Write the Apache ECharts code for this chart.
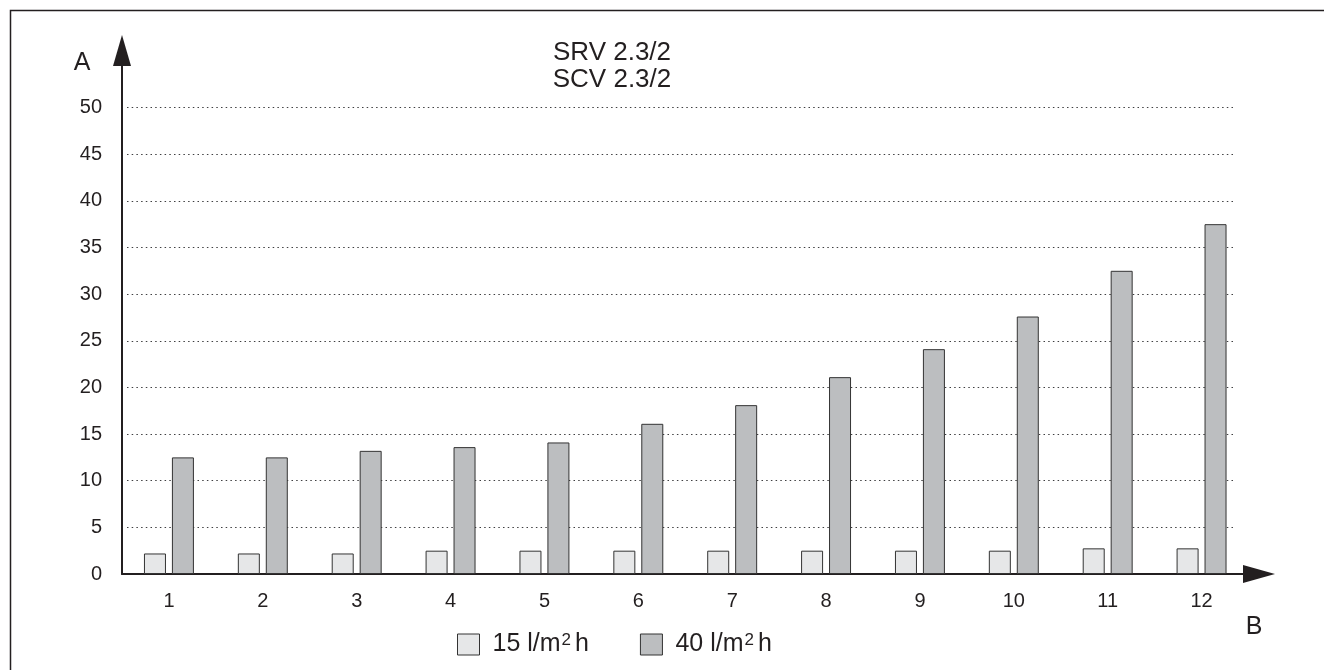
<!DOCTYPE html>
<html>
<head>
<meta charset="utf-8">
<script src="https://cdn.jsdelivr.net/npm/echarts@6/dist/echarts.min.js"></script>
<style>
  html, body { margin: 0; padding: 0; background: #ffffff; }
  #chart { width: 1324px; height: 670px; }
</style>
</head>
<body>
<div id="chart"></div>
<script>
// ---- data ----
const categories = ['1', '2', '3', '4', '5', '6', '7', '8', '9', '10', '11', '12'];
const seriesNames = ['15 l/m²h', '40 l/m²h'];
const values15 = [2.2, 2.2, 2.2, 2.5, 2.5, 2.5, 2.5, 2.5, 2.5, 2.5, 2.75, 2.75];
const values40 = [12.5, 12.5, 13.2, 13.6, 14.1, 16.1, 18.1, 21.1, 24.1, 27.6, 32.5, 37.5];
const yTicks = [0, 5, 10, 15, 20, 25, 30, 35, 40, 45, 50];
const titleLines = ['SRV 2.3/2', 'SCV 2.3/2'];
const yAxisName = 'A';
const xAxisName = 'B';

// ---- chart ----
const FONT = '"Liberation Sans", Arial, Helvetica, sans-serif';
const INK = '#231f20';
const chart = echarts.init(document.getElementById('chart'), null, { renderer: 'canvas' });
const yMaxShown = yTicks[yTicks.length - 1];
const yStep = yTicks[1] - yTicks[0];

const option = {
  backgroundColor: '#ffffff',
  animation: false,
  textStyle: { fontFamily: FONT, color: INK },
  grid: [
    { left: 122, right: 75.5, top: 60.9, bottom: 96, containLabel: false },
    { left: 127, right: 88, top: 107.5, bottom: 96, containLabel: false }
  ],
  xAxis: [
    {
      type: 'category', gridIndex: 0, data: categories,
      axisLine: { show: true, lineStyle: { color: INK, width: 2 }, symbol: ['none', 'triangle'], symbolSize: [18, 32], symbolOffset: [0, 10.5] },
      axisTick: { show: false },
      axisLabel: { fontSize: 20, color: INK, margin: 17, fontFamily: FONT },
      splitLine: { show: false }
    },
    { type: 'value', gridIndex: 1, min: 0, max: 1, show: false }
  ],
  yAxis: [
    {
      type: 'value', gridIndex: 0, min: 0, max: 55, interval: yStep,
      axisLine: { show: true, lineStyle: { color: INK, width: 2 }, symbol: ['none', 'triangle'], symbolSize: [18, 31], symbolOffset: [0, 10.4] },
      axisTick: { show: false },
      axisLabel: { fontSize: 20, color: INK, margin: 20, fontFamily: FONT,
        formatter: v => (yTicks.indexOf(v) >= 0 ? String(v) : '') },
      splitLine: { show: false }
    },
    {
      type: 'value', gridIndex: 1, min: 0, max: yMaxShown, interval: yStep,
      axisLine: { show: false }, axisTick: { show: false }, axisLabel: { show: false },
      splitLine: { show: true, lineStyle: { color: '#3f3f41', width: 1, type: [1.5, 3.2] } }
    }
  ],
  legend: {
    data: seriesNames,
    left: 452, top: 627,
    itemWidth: 22, itemHeight: 21, itemGap: 51,
    icon: 'rect',
    itemStyle: { borderColor: '#333333', borderWidth: 1 },
    textStyle: {
      fontSize: 25, color: INK, fontFamily: FONT, padding: [0, 0, 0, 8],
      rich: { s: { fontSize: 17, verticalAlign: 'top', padding: [0, 4, 8, 1], fontFamily: FONT, color: INK } }
    },
    formatter: n => n.replace('²', '{s|2}')
  },
  graphic: [
    { type: 'rect', silent: true, z: -1, shape: { x: 10.5, y: 10.5, width: 1400, height: 700 },
      style: { fill: 'none', stroke: INK, lineWidth: 1.5 } },
    { type: 'text', x: 612, y: 39, style: { text: titleLines.join('\n'), font: '26px ' + FONT, fill: INK, align: 'center', lineHeight: 27 } },
    { type: 'text', x: 82, y: 63, style: { text: yAxisName, font: '25px ' + FONT, fill: INK, align: 'center', verticalAlign: 'middle' } },
    { type: 'text', x: 1254, y: 627, style: { text: xAxisName, font: '25px ' + FONT, fill: INK, align: 'center', verticalAlign: 'middle' } }
  ],
  series: [
    {
      name: seriesNames[0], type: 'bar', xAxisIndex: 0, yAxisIndex: 0, data: values15,
      barWidth: 22, barGap: '27%',
      itemStyle: { color: '#e6e7e8', borderColor: '#333333', borderWidth: 1 }
    },
    {
      name: seriesNames[1], type: 'bar', xAxisIndex: 0, yAxisIndex: 0, data: values40,
      barWidth: 22, barGap: '27%',
      itemStyle: { color: '#bcbec0', borderColor: '#333333', borderWidth: 1 }
    }
  ]
};
chart.setOption(option);
</script>
</body>
</html>
